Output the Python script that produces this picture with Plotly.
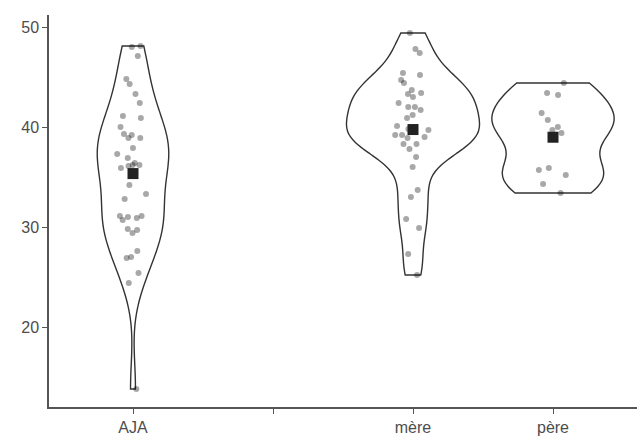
import numpy as np
import plotly.graph_objects as go

categories = ["AJA", "", "mère", "père"]

aja = [48.1, 48.0, 47.1, 44.8, 44.3, 43.3, 42.4, 41.1, 40.9, 40.0, 39.3, 39.2,
       38.9, 38.9, 37.9, 37.3, 36.9, 36.4, 36.2, 36.1, 36.2, 35.9, 34.2, 33.3,
       32.8, 31.1, 30.7, 30.9, 31.0, 31.1, 29.7, 29.4, 29.8, 27.6, 26.9, 27.0,
       25.4, 24.4, 13.8]
mere = [49.4, 47.8, 47.4, 45.4, 45.2, 44.7, 44.4, 43.7, 43.4, 43.3, 43.0, 42.4,
        42.0, 42.0, 41.7, 41.2, 40.9, 40.1, 39.8, 39.7, 39.2, 39.2, 39.0, 38.9,
        38.3, 38.3, 37.8, 37.0, 36.0, 33.7, 33.0, 30.8, 29.9, 27.3, 25.2]
pere = [44.4, 43.4, 43.2, 41.4, 40.7, 40.0, 39.7, 39.4, 35.9, 35.7, 35.2, 34.3, 33.4]

groups = {"AJA": aja, "mère": mere, "père": pere}
y_ticks = [20, 30, 40, 50]

# drawn violin widths (style), in x-axis units
violin_width = {"AJA": 0.51, "mère": 0.95, "père": 0.87}


def bw_nrd0(x):
    x = np.asarray(x, float)
    sd = x.std(ddof=1)
    iqr = np.percentile(x, 75) - np.percentile(x, 25)
    lo = min(sd, iqr / 1.34) if iqr > 0 else sd
    return 0.9 * lo * len(x) ** -0.2


fig = go.Figure()
for name, vals in groups.items():
    pos = categories.index(name) + 1
    w = violin_width[name]
    fig.add_trace(go.Violin(
        x=[pos] * len(vals), y=vals, name=name,
        bandwidth=bw_nrd0(vals), spanmode="hard", width=w,
        points="all", pointpos=0, jitter=min(1, 0.27 / w),
        marker=dict(color="rgba(0,0,0,0.34)", size=6, line=dict(width=0)),
        line=dict(color="#333333", width=1.4),
        fillcolor="rgba(0,0,0,0)",
        box_visible=False, meanline_visible=False,
        showlegend=False, hoverinfo="y",
    ))

fig.add_trace(go.Scatter(
    x=[categories.index(k) + 1 for k in groups],
    y=[float(np.mean(v)) for v in groups.values()],
    mode="markers",
    marker=dict(symbol="square", size=11, color="#222222"),
    showlegend=False,
))

axis_common = dict(
    showline=True, linecolor="#555555", linewidth=1.5,
    ticks="outside", ticklen=5, tickwidth=1.3, tickcolor="#555555",
    showgrid=False, zeroline=False,
    tickfont=dict(family="Liberation Sans, Arial, sans-serif", size=16, color="#4d4d4d"),
)

fig.update_layout(
    width=640, height=436,
    margin=dict(l=49, r=3, t=15, b=29, autoexpand=False),
    paper_bgcolor="white", plot_bgcolor="white",
    violinmode="overlay",
    xaxis=dict(range=[0.4, 4.6], tickvals=[1, 2, 3, 4], ticktext=categories,
               automargin=False, **axis_common),
    yaxis=dict(range=[12.0, 51.2], tickvals=y_ticks, automargin=False, **axis_common),
)

fig.write_html("out.html", config={"displayModeBar": False},
               post_script="document.body.style.margin='0';")
